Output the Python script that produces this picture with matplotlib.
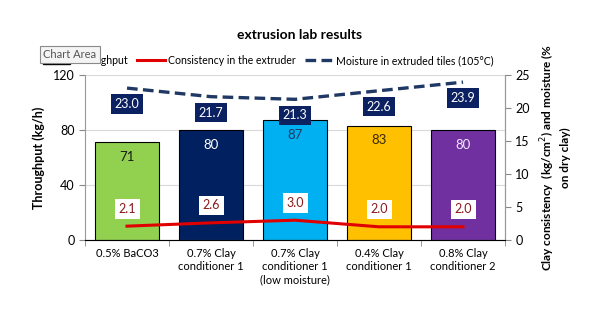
import numpy as np
import matplotlib.pyplot as plt
from matplotlib.patches import Patch
from matplotlib.lines import Line2D

plt.rcParams['font.family'] = ['Lato', 'DejaVu Sans']

categories = ['0.5% BaCO3', '0.7% Clay\nconditioner 1', '0.7% Clay\nconditioner 1\n(low moisture)',
              '0.4% Clay\nconditioner 1', '0.8% Clay\nconditioner 2']
throughput = [71, 80, 87, 83, 80]
consistency = [2.1, 2.6, 3.0, 2.0, 2.0]
moisture = [23.0, 21.7, 21.3, 22.6, 23.9]

bar_colors = ['#92D050', '#002060', '#00B0F0', '#FFC000', '#7030A0']
bar_text = ['#1a1a1a', 'white', '#1F3864', '#3a2a00', '#f0e6ff']

fig = plt.figure(figsize=(6, 3.27), dpi=100)
ax = fig.add_axes([0.1417, 0.266, 0.70, 0.505])
x = np.arange(len(categories))

# throughput bars on the left axis
ax.bar(x, throughput, width=0.76, color=bar_colors, edgecolor='black', linewidth=0.8, zorder=2)
for xi, v, c in zip(x, throughput, bar_text):
    ax.annotate(f'{v}', (xi, v), xytext=(0, -10.5), textcoords='offset points',
                ha='center', va='center', fontsize=9.5, color=c, zorder=3)

ax.set_xlim(-0.5, len(categories) - 0.5)
ax.set_ylim(0, 120)
ax.set_yticks([0, 40, 80, 120])
ax.grid(axis='y', color='#d9d9d9', linewidth=0.8, zorder=0)
ax.set_xticks(x)
ax.set_xticklabels(categories, fontsize=8)
ax.set_xticks(np.arange(len(categories) + 1) - 0.5, minor=True)
ax.tick_params(axis='x', which='major', length=0, pad=6)
ax.tick_params(axis='x', which='minor', length=4, color='#888888')
ax.tick_params(axis='y', length=4, color='#888888', labelsize=9)
ax.set_ylabel('Throughput (kg/h)', fontsize=9, fontweight='bold', labelpad=6)
ax.spines['top'].set_visible(False)
for s in ['left', 'bottom', 'right']:
    ax.spines[s].set_color('#999999')

# consistency and moisture lines on the right axis
ax2 = ax.twinx()
ax2.set_ylim(0, 25)
ax2.set_yticks([0, 5, 10, 15, 20, 25])
ax2.tick_params(axis='y', length=4, color='#888888', labelsize=9)
ax2.spines['top'].set_visible(False)
ax2.spines['right'].set_color('#999999')
ax2.spines['left'].set_visible(False)
ax2.plot(x, consistency, color='#E00000', linewidth=2.2, zorder=4)
ax2.plot(x, moisture, color='#1F3864', linewidth=2.4, linestyle=(0, (3.2, 1.6)), zorder=4)
for xi, v in zip(x, consistency):
    ax2.annotate(f'{v:.1f}', (xi, v), xytext=(0, 12.5), textcoords='offset points',
                 ha='center', va='center', fontsize=9, color='#8B1A1A',
                 bbox=dict(boxstyle='square,pad=0.3', fc='white', ec='none'), zorder=5)
for xi, v in zip(x, moisture):
    ax2.annotate(f'{v:.1f}', (xi, v), xytext=(0, -11.5), textcoords='offset points',
                 ha='center', va='center', fontsize=9, color='white',
                 bbox=dict(boxstyle='square,pad=0.3', fc='#0B2161', ec='none'), zorder=5)
ax2.set_ylabel('Clay consistency  (kg/cm$^2$) and moisture (%\non dry clay)',
               fontsize=8.5, fontweight='bold', labelpad=6, linespacing=1.3)

fig.suptitle('extrusion lab results', y=0.91, fontsize=10, fontweight='bold')
handles = [Patch(facecolor='#92D050', edgecolor='black'),
           Line2D([], [], color='#E00000', linewidth=2.2),
           Line2D([], [], color='#1F3864', linewidth=2.4, linestyle=(0, (3.2, 1.6)))]
fig.legend(handles, ['Throughput', 'Consistency in the extruder', 'Moisture in extruded tiles (105°C)'],
           loc='center', bbox_to_anchor=(0.447, 0.815), ncol=3, frameon=False, fontsize=7.6,
           handlelength=2.6, columnspacing=0.8, handletextpad=0.35)
fig.text(0.072, 0.833, 'Chart Area', fontsize=8, color='#555555', ha='left', va='center',
         bbox=dict(boxstyle='square,pad=0.3', fc='#f4f4f4', ec='#8a8a8a', lw=0.8), zorder=10)

fig.savefig('out.png', dpi=100)
